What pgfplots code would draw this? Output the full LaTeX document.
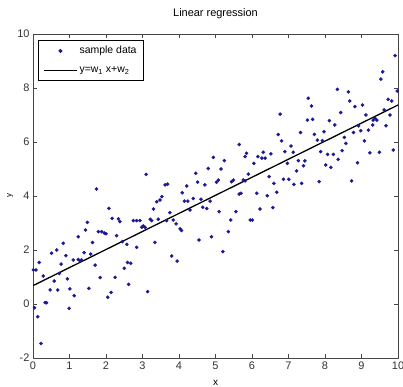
\documentclass[border=0pt]{standalone}
\usepackage{fontspec}
\setmainfont{Liberation Sans}
\usepackage{pgfplots}
\usepackage{pgfplotstable}
\pgfplotsset{compat=1.18}
\definecolor{dotblue}{RGB}{25,25,150}
\definecolor{axgray}{RGB}{70,70,70}
\pgfplotsset{
  longmark/.style={legend image code/.code={\draw[mark repeat=2,mark phase=2,##1] plot coordinates {(0cm,0cm) (0.58cm,0cm) (1.16cm,0cm)};}},
  longline/.style={legend image code/.code={\draw[##1] (0cm,0cm) -- (1.16cm,0cm);}},
}
\pgfplotstableread{
x y
1.74 4.26
2.08 3.54
2.17 3.17
2.34 3.15
2.38 3.05
1.49 3.02
1.44 2.74
1.79 2.68
1.88 2.68
1.95 2.63
2.00 2.60
2.29 2.53
1.24 2.49
1.63 2.28
0.83 2.25
2.45 2.31
2.57 2.21
0.65 2.00
0.51 1.88
0.90 1.79
1.40 1.90
1.58 1.85
1.10 1.63
1.24 1.65
1.29 1.60
1.33 1.63
0.17 1.54
0.77 1.48
1.70 1.44
2.59 1.54
2.50 1.32
0.01 1.26
0.08 1.26
0.72 1.13
0.28 1.04
0.94 0.93
1.84 0.98
2.25 0.99
0.58 0.85
2.62 0.73
0.47 0.52
0.68 0.52
1.01 0.56
1.53 0.58
1.13 0.31
2.14 0.43
2.05 0.25
0.33 0.05
0.37 0.05
0.04 -0.14
0.99 -0.16
0.13 -0.47
0.22 -1.46
4.94 5.43
4.80 5.02
3.10 4.80
4.46 4.84
4.51 4.51
4.71 4.41
5.03 4.51
5.08 4.59
3.62 4.41
3.69 4.44
4.21 4.37
4.09 4.12
3.53 3.98
3.48 3.85
3.39 3.79
4.15 3.81
4.24 3.81
4.39 3.91
4.60 3.88
4.85 3.81
4.65 3.58
4.76 3.54
4.30 3.48
3.30 3.52
3.75 3.38
3.21 3.14
3.25 3.09
3.43 3.14
2.75 3.09
2.84 3.09
2.93 3.09
3.66 3.09
3.84 3.11
3.02 2.89
3.07 2.84
2.98 2.84
3.92 2.97
4.03 2.78
4.07 2.72
2.84 2.10
3.34 2.28
4.55 2.37
4.89 2.49
3.80 1.78
3.95 1.59
2.68 1.51
3.14 0.46
7.54 7.62
6.77 7.03
7.52 6.81
6.72 6.28
7.33 6.35
6.81 6.04
5.65 5.91
7.07 5.85
5.85 5.58
5.81 5.46
6.16 5.46
6.27 5.40
6.36 5.40
6.31 5.62
6.52 5.56
6.90 5.64
7.13 5.62
5.24 5.31
6.05 5.21
6.97 5.21
7.27 5.31
7.45 5.30
7.41 5.12
5.15 5.00
7.22 4.93
5.90 4.81
6.47 4.72
5.49 4.59
5.44 4.53
5.76 4.59
5.81 4.56
6.86 4.62
7.01 4.62
6.60 4.47
7.15 4.43
7.36 4.47
5.65 4.07
5.70 4.10
6.13 4.10
6.42 4.01
6.68 4.14
5.10 3.42
5.56 3.42
6.22 3.52
6.57 3.57
5.42 3.11
5.95 3.11
6.01 3.11
5.35 2.68
5.20 1.94
9.92 9.20
9.58 8.60
9.53 8.33
9.98 7.89
8.34 7.95
8.64 7.86
9.73 7.58
9.83 7.52
8.68 7.52
7.63 7.33
8.82 7.31
9.03 7.37
9.62 7.19
8.43 7.09
9.12 7.00
9.78 7.00
7.66 6.84
8.12 6.79
9.37 6.88
9.42 6.81
9.32 6.81
8.27 6.63
8.92 6.60
9.31 6.63
9.67 6.60
7.71 6.28
7.97 6.38
8.78 6.35
8.98 6.42
9.19 6.44
7.79 6.07
7.93 6.05
8.53 6.17
8.57 5.95
9.08 6.04
7.88 5.64
8.47 5.68
9.23 5.60
9.49 5.62
9.87 5.70
8.07 5.54
8.23 5.54
8.36 5.36
8.02 5.15
8.16 5.06
8.89 5.23
7.84 4.53
8.73 4.56
}\sampledata
\begin{document}
\begin{tikzpicture}[x=1bp,y=1bp]
\useasboundingbox (-33,-29) rectangle (370,358);
\begin{axis}[
  at={(0,0)}, anchor=south west,
  scale only axis, width=365bp, height=324bp,
  xmin=0, xmax=10, ymin=-2, ymax=10,
  xtick={0,1,...,10}, ytick={-2,0,...,10},
  tick align=inside, major tick length=4bp,
  axis line style={axgray, line width=0.8bp},
  tick style={axgray, line width=0.6bp},
  /pgf/number format/assume math mode=true,
  ticklabel style={font=\fontsize{11}{12}\selectfont, text=black!80},
  title={Linear regression},
  title style={font=\fontsize{11}{13}\selectfont, at={(axis description cs:0.5,1.035)}, anchor=base},
  xlabel={x},
  xlabel style={font=\fontsize{10}{12}\selectfont, at={(axis description cs:0.5,-0.0864)}, anchor=base},
  ylabel={y},
  ylabel style={font=\fontsize{8}{10}\selectfont, at={(axis description cs:-0.063,0.5)}, anchor=center},
  legend style={at={(axis description cs:0.0137,0.9815)}, anchor=north west,
    draw=black, line width=0.8bp, font=\fontsize{10.5}{12}\selectfont,
    inner xsep=5bp, inner ysep=4bp, row sep=7bp},
  legend cell align=left,
]
\addplot[only marks, mark=*, mark size=1.6bp, color=dotblue, longmark]
  table[x=x,y=y] {\sampledata};
\addlegendentry{sample data}
\addplot[black, line width=1.3bp, longline]
  coordinates {(0,0.68) (10,7.37)};
\addlegendentry{y=w\textsubscript{1} x+w\textsubscript{2}}
\end{axis}
\end{tikzpicture}
\end{document}
